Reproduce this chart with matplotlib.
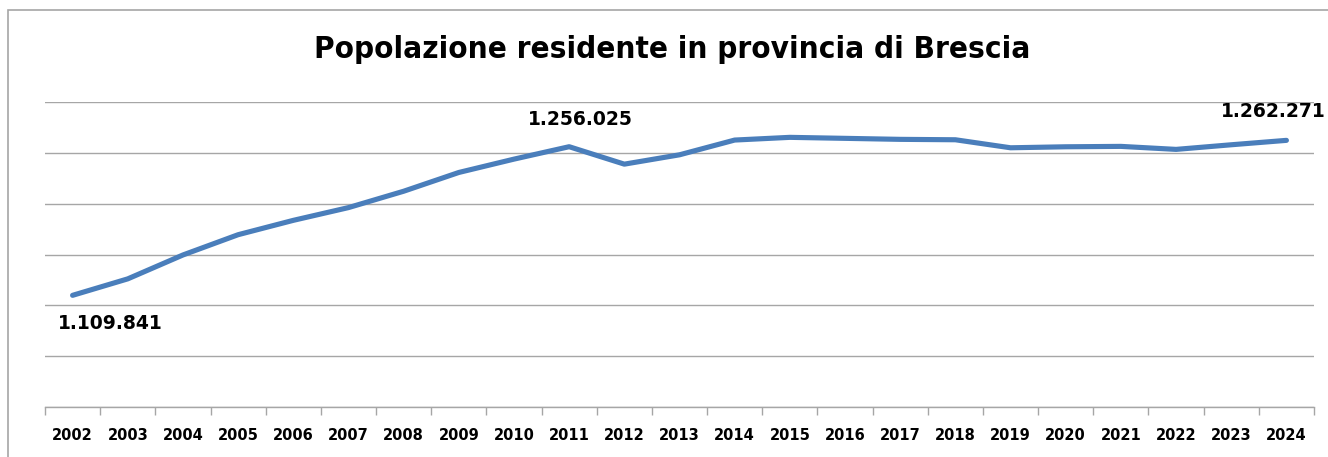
import matplotlib
matplotlib.use("Agg")
import matplotlib.pyplot as plt
from matplotlib.patches import Rectangle
from matplotlib.ticker import FixedLocator

years = [2002, 2003, 2004, 2005, 2006, 2007, 2008, 2009, 2010, 2011, 2012,
         2013, 2014, 2015, 2016, 2017, 2018, 2019, 2020, 2021, 2022, 2023, 2024]
population = [1109841, 1126040, 1149530, 1169470, 1183590, 1196130, 1212220,
              1230680, 1243810, 1256025, 1238870, 1248060, 1262570, 1265230,
              1264250, 1263260, 1262860, 1254970, 1255950, 1256350, 1253390,
              1257930, 1262271]
labelled = {2002: "1.109.841", 2011: "1.256.025", 2024: "1.262.271"}
title = "Popolazione residente in provincia di Brescia"

plt.rcParams['font.family'] = ['DejaVu Sans']

fig = plt.figure(figsize=(13.28, 4.57), dpi=100)
ax = fig.add_axes([45/1328, 1-407/457, (1314-45)/1328, (407-102)/457])

x = list(range(len(years)))
ax.plot(x, population, color="#4A7EBB", linewidth=3.7, solid_capstyle="round",
        solid_joinstyle="round", zorder=3)

ax.set_xlim(-0.5, len(years) - 0.5)
ax.set_ylim(1000000, 1300000)
ax.set_yticks(range(1000000, 1300001, 50000))
ax.yaxis.grid(True, color="#A6A6A6", linewidth=1.0)
ax.set_axisbelow(True)
ax.tick_params(axis="y", left=False, labelleft=False)

ax.set_xticks(x)
ax.set_xticklabels([str(y) for y in years], fontsize=10.5, fontweight="bold")
ax.tick_params(axis="x", which="major", length=0, pad=15)
ax.xaxis.set_minor_locator(FixedLocator([i - 0.5 for i in range(len(years) + 1)]))
ax.tick_params(axis="x", which="minor", length=6, width=1.0, color="#A6A6A6",
               direction="out")

for s in ["top", "right", "left"]:
    ax.spines[s].set_visible(False)
ax.spines["bottom"].set_color("#A6A6A6")
ax.spines["bottom"].set_linewidth(1.0)

# data labels (offsets in pixels)
offsets = {2002: (38, -28), 2011: (11, 27), 2024: (-13, 29)}
for yr, txt in labelled.items():
    i = years.index(yr)
    dx, dy = offsets[yr]
    ax.annotate(txt, (i, population[i]), xytext=(dx * 0.72, dy * 0.72),
                textcoords="offset points", ha="center", va="center",
                fontsize=13.5, fontweight="bold", color="black",
                annotation_clip=False)

fig.text(672/1328, 1-50/457, title, ha="center", va="center",
         fontsize=22.5, fontweight="bold", fontstretch="condensed", color="black")

# chart border (partially visible)
fig.patches.append(Rectangle((8/1328, -0.2), 1.5, 1.2 - 10/457, transform=fig.transFigure,
                             fill=False, edgecolor="#A6A6A6", linewidth=1.2))

fig.savefig("out.png", dpi=100)
